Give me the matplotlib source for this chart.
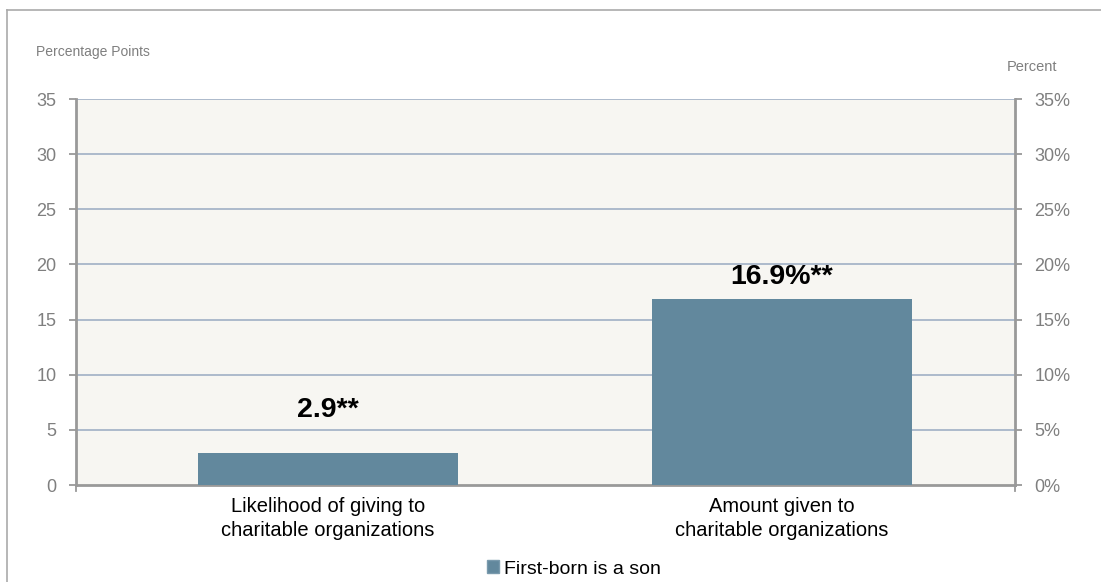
import matplotlib.pyplot as plt
from matplotlib.lines import Line2D
from matplotlib.patches import Patch

categories = ['Likelihood of giving to\ncharitable organizations',
              'Amount given to\ncharitable organizations']
values = [2.9, 16.9]
value_labels = ['2.9**', '16.9%**']
left_ticks = [0, 5, 10, 15, 20, 25, 30, 35]
right_tick_labels = ['0%', '5%', '10%', '15%', '20%', '25%', '30%', '35%']
series_name = 'First-born is a son'

bar_color = '#62889D'
grid_color = '#A7B5C9'
spine_color = '#999999'
tick_text = '#7F7F7F'
label_offsets = [3.9, 1.95]  # gap between bar top and value label

plt.rcParams['font.family'] = ['Liberation Sans', 'DejaVu Sans']

fig = plt.figure(figsize=(11.01, 5.82), dpi=100)
ax = fig.add_axes([76 / 1101, 1 - 485 / 582, (1015 - 76) / 1101, (485 - 99) / 582])
ax.set_facecolor('#F7F6F2')

x = [0, 1]
ax.bar(x, values, width=0.573, color=bar_color, zorder=3)
ax.set_xlim(-0.555, 1.513)
ax.set_ylim(0, 35)

for y in left_ticks[1:]:
    ax.axhline(y, color=grid_color, lw=1.3, zorder=1)

for xi, v, lab, off in zip(x, values, value_labels, label_offsets):
    ax.text(xi, v + off, lab, ha='center', va='center', fontsize=20.5,
            fontweight='bold', color='black', zorder=4)

ax.set_yticks(left_ticks)
ax.tick_params(axis='y', colors=spine_color, labelcolor=tick_text,
               labelsize=13, length=5, width=1.3, pad=9)
ax.set_xticks(x)
ax.set_xticklabels(categories, fontsize=14.5, color='black', linespacing=1.3)
ax.tick_params(axis='x', length=0, pad=9)

for s in ['left', 'right', 'bottom']:
    ax.spines[s].set_color(spine_color)
    ax.spines[s].set_linewidth(2)
ax.spines['top'].set_visible(False)

ax2 = ax.twinx()
ax2.set_ylim(0, 35)
ax2.set_yticks(left_ticks)
ax2.set_yticklabels(right_tick_labels)
ax2.tick_params(axis='y', colors=spine_color, labelcolor=tick_text,
                labelsize=13, length=5, width=1.3, pad=9)
for s in ['left', 'right', 'bottom', 'top']:
    ax2.spines[s].set_visible(False)

# small ticks below the x axis at the corners
ax.plot([-0.555, -0.555], [0, -0.5], color=spine_color, lw=1.3, clip_on=False)
ax.plot([1.513, 1.513], [0, -0.5], color=spine_color, lw=1.3, clip_on=False)

fig.text(36 / 1101, 1 - 52 / 582, 'Percentage Points', fontsize=10,
         color=tick_text, ha='left', va='center')
fig.text(1057 / 1101, 1 - 67 / 582, 'Percent', fontsize=10.5,
         color=tick_text, ha='right', va='center')

# outer frame lines
fig.add_artist(Line2D([7 / 1101, 7 / 1101], [0, 1 - 10 / 582], color='#AAAAAA', lw=1.2))
fig.add_artist(Line2D([7 / 1101, 1], [1 - 10 / 582, 1 - 10 / 582], color='#AAAAAA', lw=1.2))

fig.legend(handles=[Patch(facecolor=bar_color, edgecolor='#7A9AAD', label=series_name)],
           loc='center', bbox_to_anchor=(574 / 1101, 1 - 569 / 582), frameon=False,
           fontsize=14, handlelength=0.6, handleheight=0.6, handletextpad=0.25)

fig.savefig('out.png', dpi=100, facecolor='white')
